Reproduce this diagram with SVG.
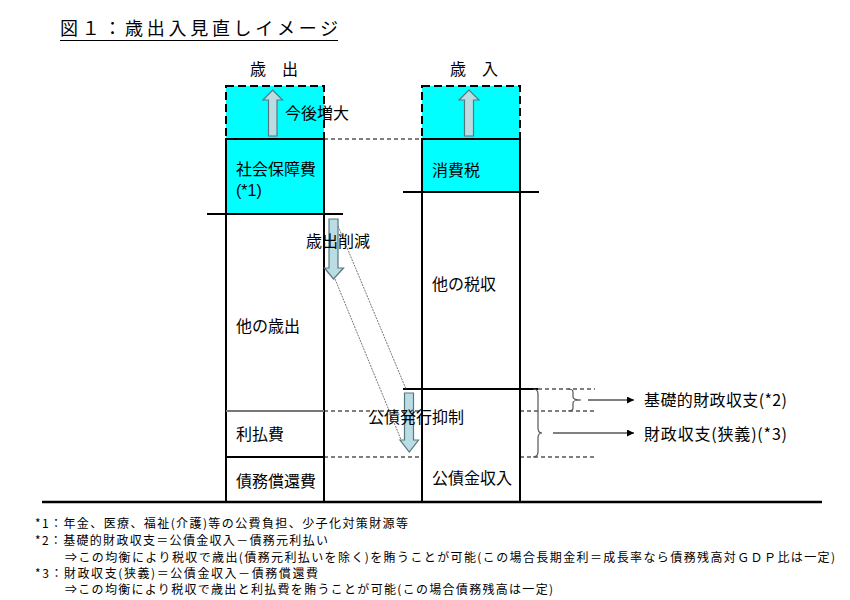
<svg xmlns="http://www.w3.org/2000/svg" width="850" height="600" viewBox="0 0 850 600">
<defs>
<style>
text{font-family:"Noto Sans CJK JP","Noto Sans",sans-serif;fill:#000}
.lbl{font-size:16px}
.lat{font-family:"Liberation Sans",sans-serif;font-size:16px}
.fn{font-size:12px}
.cyan{fill:#00FFFF}
.box{stroke:#000;stroke-width:2}
.dbox{stroke:#000;stroke-width:2;stroke-dasharray:8 4}
.bar{stroke:#000;stroke-width:2}
.dash{stroke:#000;stroke-width:1;stroke-dasharray:4 3;fill:none}
.dot{stroke:#777;stroke-width:1;stroke-dasharray:2 1;fill:none}
.fat{fill:#BADDE3;stroke:#56777D;stroke-width:1.2}
.brace{fill:none;stroke:#555;stroke-width:1.2}
.conn{stroke:#000;stroke-width:1;fill:none}
</style>
<marker id="ah" viewBox="0 0 10 10" refX="10" refY="5" markerWidth="9" markerHeight="7" markerUnits="userSpaceOnUse" orient="auto">
<path d="M0 0 L10 5 L0 10 Z" fill="#000"/>
</marker>
</defs>
<rect width="850" height="600" fill="#fff"/>

<g id="title">
<text x="60" y="35" style="font-size:18px" textLength="278" lengthAdjust="spacing">図１：歳出入見直しイメージ</text>
<line x1="60" y1="40.5" x2="338" y2="40.5" stroke="#000" stroke-width="1"/>
</g>

<g id="header-expenditure"><text class="lbl" x="250" y="75">歳　出</text></g>
<g id="header-revenue"><text class="lbl" x="450" y="75">歳　入</text></g>

<!-- Left column -->
<g id="exp-future">
<rect x="226" y="86" width="98" height="53" class="cyan dbox"/>
<path class="fat" d="M268.5 136 V100 H263 L272.7 90 L282.5 100 H277 V136 Z"/>
<text class="lbl" x="285" y="119">今後増大</text>
</g>
<g id="exp-social">
<rect x="226" y="139" width="98" height="75" class="cyan box"/>
<text class="lbl" x="236" y="175">社会保障費</text>
<text class="lat" x="236" y="195.5">(*1)</text>
</g>
<g id="exp-other">
<rect x="226" y="214" width="98" height="197" fill="#fff" class="box"/>
<text class="lbl" x="236" y="332">他の歳出</text>
</g>
<g id="exp-interest">
<rect x="226" y="411" width="98" height="46" fill="#fff" class="box"/>
<line x1="226" y1="411" x2="324" y2="411" stroke="#777" stroke-width="2"/>
<text class="lbl" x="236" y="440">利払費</text>
</g>
<g id="exp-redemption">
<rect x="226" y="457" width="98" height="45" fill="#fff" class="box"/>
<text class="lbl" x="236" y="487">債務償還費</text>
</g>

<!-- Right column -->
<g id="rev-future">
<rect x="422" y="86" width="98" height="53" class="cyan dbox"/>
<path class="fat" d="M464.5 136 V100 H459 L469 90 L479 100 H473.5 V136 Z"/>
</g>
<g id="rev-consumption">
<rect x="422" y="139" width="98" height="53" class="cyan box"/>
<text class="lbl" x="432" y="176">消費税</text>
</g>
<g id="rev-othertax">
<rect x="422" y="192" width="98" height="197" fill="#fff" class="box"/>
<text class="lbl" x="432" y="290">他の税収</text>
</g>
<g id="rev-bond">
<rect x="422" y="389" width="98" height="113" fill="#fff" class="box"/>
<text class="lbl" x="432" y="484">公債金収入</text>
</g>

<!-- Connectors and guides -->
<g id="connectors">
<line x1="207" y1="214" x2="343" y2="214" class="bar"/>
<line x1="403" y1="192" x2="539" y2="192" class="bar"/>
<line x1="403" y1="389" x2="538" y2="389" class="bar"/>
<line x1="42" y1="502" x2="822" y2="502" stroke="#000" stroke-width="2.5"/>

<line x1="324" y1="139" x2="422" y2="139" class="dash"/>
<line x1="324" y1="411" x2="422" y2="411" class="dash"/>
<line x1="324" y1="457" x2="422" y2="457" class="dash"/>
<line x1="538" y1="389" x2="595" y2="389" class="dash"/>
<line x1="520" y1="411" x2="595" y2="411" class="dash"/>
<line x1="520" y1="457" x2="595" y2="457" class="dash"/>

<line x1="338" y1="226" x2="406" y2="389" class="dot"/>
<line x1="335" y1="279" x2="402" y2="442" class="dot"/>

<path class="brace" d="M533 389 Q538 389 538 394 L538 428 Q538 433 542 433 Q538 433 538 438 L538 452 Q538 457 533 457"/>
<path class="brace" d="M568 389 Q573 389 573 392 L573 397 Q573 400 581 400 Q573 400 573 403 L573 408 Q573 411 568 411"/>

<line x1="588" y1="400" x2="634" y2="400" class="conn" marker-end="url(#ah)"/>
<line x1="553" y1="433" x2="634" y2="433" class="conn" marker-end="url(#ah)"/>
</g>

<g id="cut-spending">
<path class="fat" d="M329 219 H338 V268 H343.5 L333.5 279 L324.5 268 H329 Z"/>
<text class="lbl" x="306" y="247">歳出削減</text>
</g>
<g id="cut-bond">
<path class="fat" d="M404.5 393 H413.5 V440 H418.5 L409.3 452 L400 440 H404.5 Z"/>
<text class="lbl" x="368" y="423">公債発行抑制</text>
</g>

<g id="label-primary"><text class="lbl" x="644" y="406" textLength="143" lengthAdjust="spacing">基礎的財政収支(*2)</text></g>
<g id="label-fiscal"><text class="lbl" x="644" y="440" textLength="143" lengthAdjust="spacing">財政収支(狭義)(*3)</text></g>

<g id="footnotes">
<text class="fn" x="35" y="528" textLength="373" lengthAdjust="spacing">*1：年金、医療、福祉(介護)等の公費負担、少子化対策財源等</text>
<text class="fn" x="35" y="545" textLength="293" lengthAdjust="spacing">*2：基礎的財政収支＝公債金収入－債務元利払い</text>
<text class="fn" x="65" y="562" textLength="770" lengthAdjust="spacing">⇒この均衡により税収で歳出(債務元利払いを除く)を賄うことが可能(この場合長期金利＝成長率なら債務残高対ＧＤＰ比は一定)</text>
<text class="fn" x="35" y="578" textLength="283" lengthAdjust="spacing">*3：財政収支(狭義)＝公債金収入－債務償還費</text>
<text class="fn" x="65" y="594" textLength="488" lengthAdjust="spacing">⇒この均衡により税収で歳出と利払費を賄うことが可能(この場合債務残高は一定)</text>
</g>
</svg>
